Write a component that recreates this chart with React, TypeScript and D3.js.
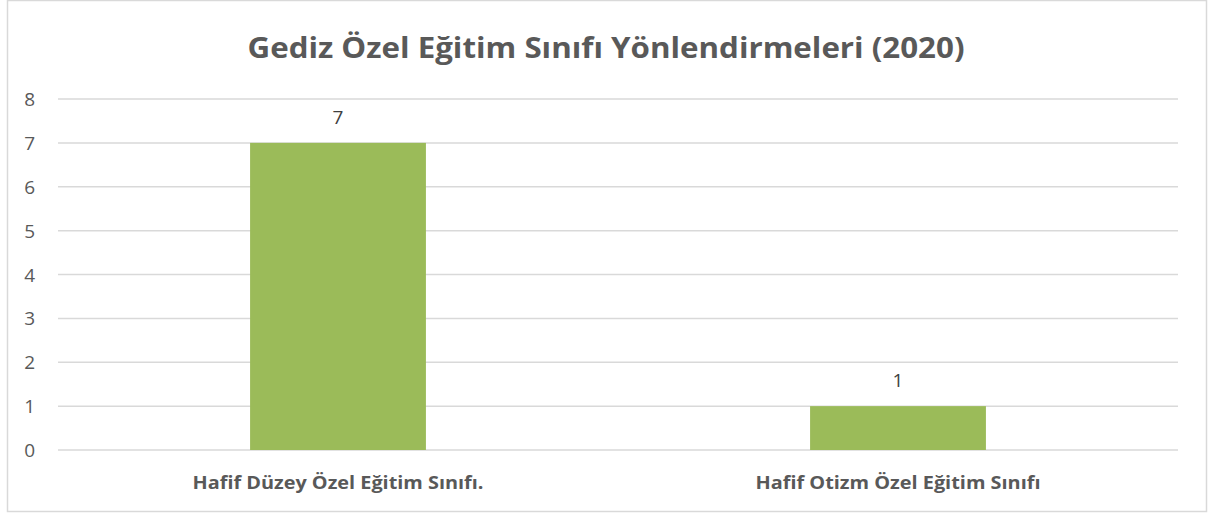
import React from "react";
import * as d3 from "d3";

const categories = ["Hafif Düzey Özel Eğitim Sınıfı.", "Hafif Otizm Özel Eğitim Sınıfı"];
const values = [7, 1];
const yTicks = [0, 1, 2, 3, 4, 5, 6, 7, 8];
const title = "Gediz Özel Eğitim Sınıfı Yönlendirmeleri (2020)";

export default function App() {
  const W = 1212, H = 513;
  const left = 58, right = 1178, top = 99, bottom = 450;
  const x = d3.scaleBand<string>().domain(categories).range([left, right]).paddingInner(0.686).paddingOuter(0.343);
  const y = d3.scaleLinear().domain([0, 8]).range([bottom, top]);
  const font = "'Open Sans', 'Liberation Sans', sans-serif";
  return (
    <svg width={W} height={H} style={{ position: "absolute", left: 0, top: 0, background: "#fff" }} fontFamily={font}>
      <rect x={7.5} y={0.5} width={1199} height={511} fill="#fff" stroke="#d9d9d9" strokeWidth={1.5} />
      <text x={606} y={58} textAnchor="middle" fontSize={29} fontWeight="bold" fill="#595959" textLength={717} lengthAdjust="spacingAndGlyphs">{title}</text>
      {yTicks.map((t) => (
        <g key={t}>
          <line x1={left} x2={right} y1={y(t)} y2={y(t)} stroke="#d9d9d9" strokeWidth={1.5} />
          <text x={35} y={y(t) + 7} textAnchor="end" fontSize={19} fill="#595959">{t}</text>
        </g>
      ))}
      {categories.map((c, i) => (
        <g key={c}>
          <rect x={x(c)!} y={y(values[i])} width={x.bandwidth()} height={y(0) - y(values[i])} fill="#9bbb59" />
          <text x={x(c)! + x.bandwidth() / 2} y={y(values[i]) - 19} textAnchor="middle" fontSize={19} fill="#404040">{values[i]}</text>
          <text x={x(c)! + x.bandwidth() / 2} y={489} textAnchor="middle" fontSize={17} fontWeight="bold" fill="#595959" textLength={i === 0 ? 291 : 285} lengthAdjust="spacingAndGlyphs">{c}</text>
        </g>
      ))}
    </svg>
  );
}
